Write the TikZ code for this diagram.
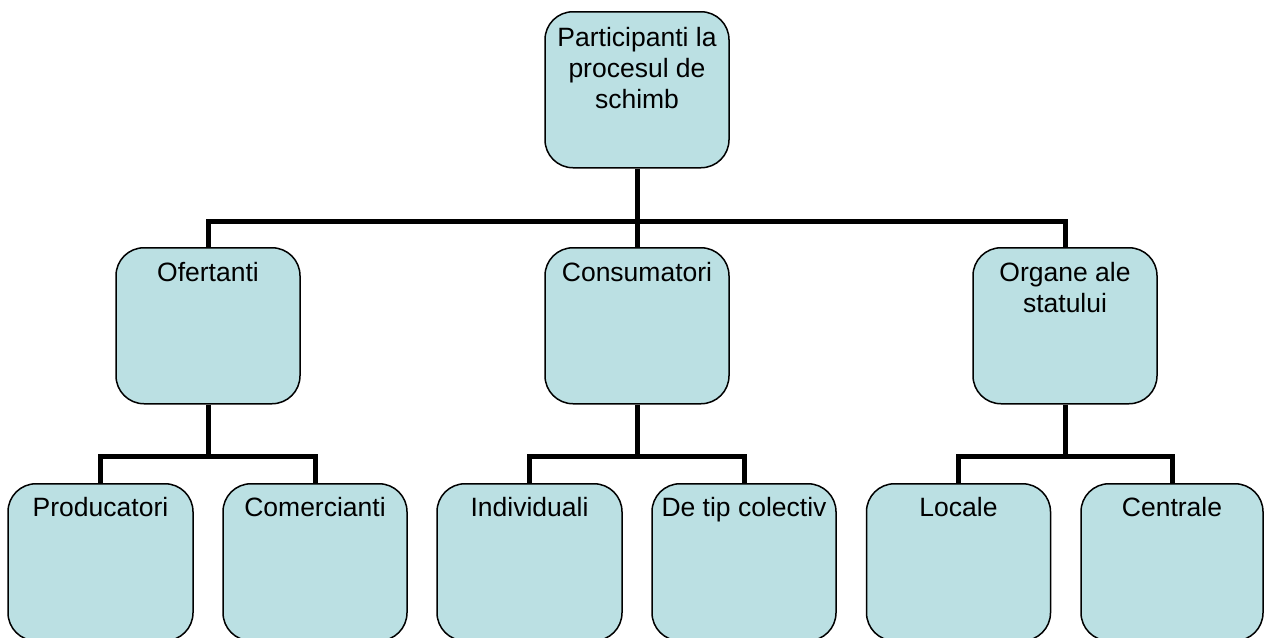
\documentclass[tikz,border=0pt]{standalone}
\usepackage{fontspec}
\setmainfont{Liberation Sans}
\definecolor{boxfill}{RGB}{187,224,227}
\begin{document}
\begin{tikzpicture}[x=1pt,y=-1pt,
  box/.style={draw=black, line width=1.5pt, fill=boxfill, rounded corners=28pt,
    minimum width=184pt, minimum height=156pt, inner sep=0pt, anchor=north},
  lbl/.style={anchor=north, inner sep=0pt, align=center, font=\fontsize{26.5}{31}\selectfont},
  conn/.style={line width=5pt}]
\useasboundingbox (0,0) rectangle (1265,637);
\begin{scope}
\clip (0,0) rectangle (1265,637);
% bar junctions
\coordinate (h0) at (637,221);
\coordinate (h1) at (208,456);
\coordinate (h2) at (637,456);
\coordinate (h3) at (1065,456);
% boxes
\node[box] (root) at (637,11) {};
\node[box] (ofr) at (208,247) {};
\node[box] (cons) at (637,247) {};
\node[box] (org) at (1065,247) {};
\node[box, minimum width=185pt, minimum height=157pt] (prod) at (100.5,483) {};
\node[box, minimum height=157pt] (com) at (315,483) {};
\node[box, minimum width=185pt, minimum height=157pt] (ind) at (529.5,483) {};
\node[box, minimum height=157pt] (col) at (744,483) {};
\node[box, minimum height=157pt] (loc) at (958.5,483) {};
\node[box, minimum width=182pt, minimum height=157pt] (cen) at (1172,483) {};
% connectors
\draw[conn] (root.south) -- (cons.north);
\draw[conn] (ofr.north) -- (ofr.north |- h0) -- (org.north |- h0) -- (org.north);
\draw[conn] (ofr.south) -- (h1);
\draw[conn] (prod.north) -- (prod.north |- h1) -- (com.north |- h1) -- (com.north);
\draw[conn] (cons.south) -- (h2);
\draw[conn] (ind.north) -- (ind.north |- h2) -- (col.north |- h2) -- (col.north);
\draw[conn] (org.south) -- (h3);
\draw[conn] (loc.north) -- (loc.north |- h3) -- (cen.north |- h3) -- (cen.north);
% labels
\node[lbl] (troot) at ([yshift=-16pt]root.north) {Participanti la\\procesul de\\schimb};
\node[lbl] (tofr) at ([yshift=-15pt]ofr.north) {Ofertanti};
\node[lbl] (tcons) at ([yshift=-15pt]cons.north) {Consumatori};
\node[lbl] (torg) at ([yshift=-15pt]org.north) {Organe ale\\statului};
\node[lbl] (tprod) at ([yshift=-14pt]prod.north) {Producatori};
\node[lbl] (tcom) at ([yshift=-14pt]com.north) {Comercianti};
\node[lbl] (tind) at ([yshift=-14pt]ind.north) {Individuali};
\node[lbl] (tcol) at ([yshift=-14pt]col.north) {De tip colectiv};
\node[lbl] (tloc) at ([yshift=-14pt]loc.north) {Locale};
\node[lbl] (tcen) at ([yshift=-14pt]cen.north) {Centrale};
\end{scope}
\end{tikzpicture}
\end{document}
